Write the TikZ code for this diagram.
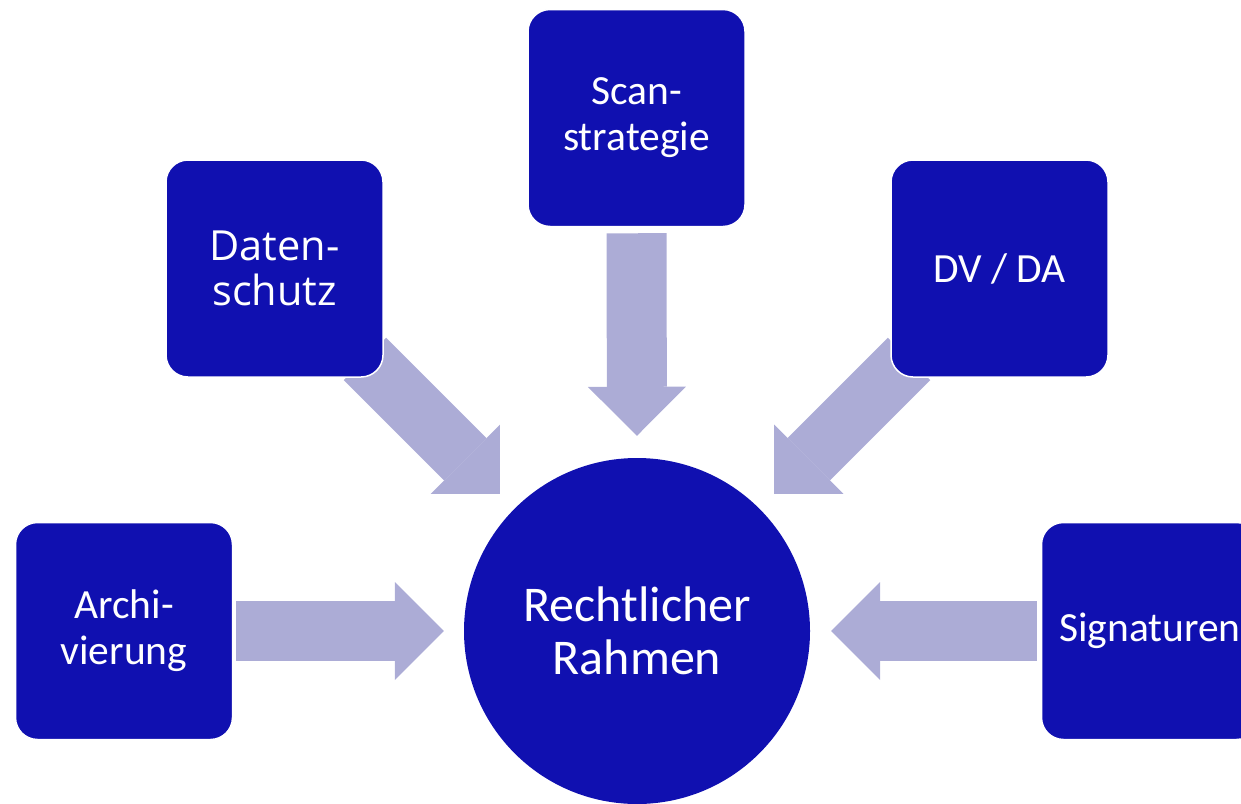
\documentclass[tikz,border=0pt]{standalone}
\usepackage{fontspec}
\setmainfont{Carlito}
\newfontfamily\osans{Open Sans}
\usetikzlibrary{arrows.meta,backgrounds}
\definecolor{boxblue}{RGB}{16,16,176}
\definecolor{arrowlav}{RGB}{172,172,214}
\begin{document}
\begin{tikzpicture}[x=1pt,y=-1pt,
  box/.style={rectangle, rounded corners=22pt, fill=boxblue, draw=white, line width=1.5pt,
    minimum width=217pt, minimum height=217pt, inner sep=0pt, text=white, align=center,
    font=\fontsize{41.5}{46}\selectfont},
  hub/.style={circle, fill=boxblue, minimum size=346pt, inner sep=0pt, text=white,
    align=center, font=\fontsize{50}{53}\selectfont},
  bigarrow/.style={draw=arrowlav, line width=60pt,
    -{Triangle[length=49pt,width=98pt,line width=0pt]}}]
\useasboundingbox (0,0) rectangle (1241,803);
\node[hub] (c) at (637,631) {Rechtlicher\\Rahmen};
\node[box] (scan) at (636.5,118) {Scan-\\strategie};
\node[box, font=\osans\fontsize{41.5}{45}\selectfont] (dat) at (274.5,268.5) {Daten-\\schutz};
\node[box] (dv) at (999.5,268.5) {DV / DA};
\node[box] (arch) at (124,631) {Archi-\\vierung};
\node[box] (sig) at (1150,631) {Signaturen};
\begin{pgfonlayer}{background}
\draw[bigarrow, shorten <=6pt, shorten >=22pt] (scan.south) -- (c.north);
\draw[bigarrow, shorten <=3pt, shorten >=20pt] (arch.east) -- (c.west);
\draw[bigarrow, shorten <=4pt, shorten >=21pt] (sig.west) -- (c.east);
\draw[bigarrow, shorten <=-26.6pt, shorten >=20.7pt] (dat.south east) -- (c.north west);
\draw[bigarrow, shorten <=-26.6pt, shorten >=20.7pt] (dv.south west) -- (c.north east);
\end{pgfonlayer}
\end{tikzpicture}
\end{document}
